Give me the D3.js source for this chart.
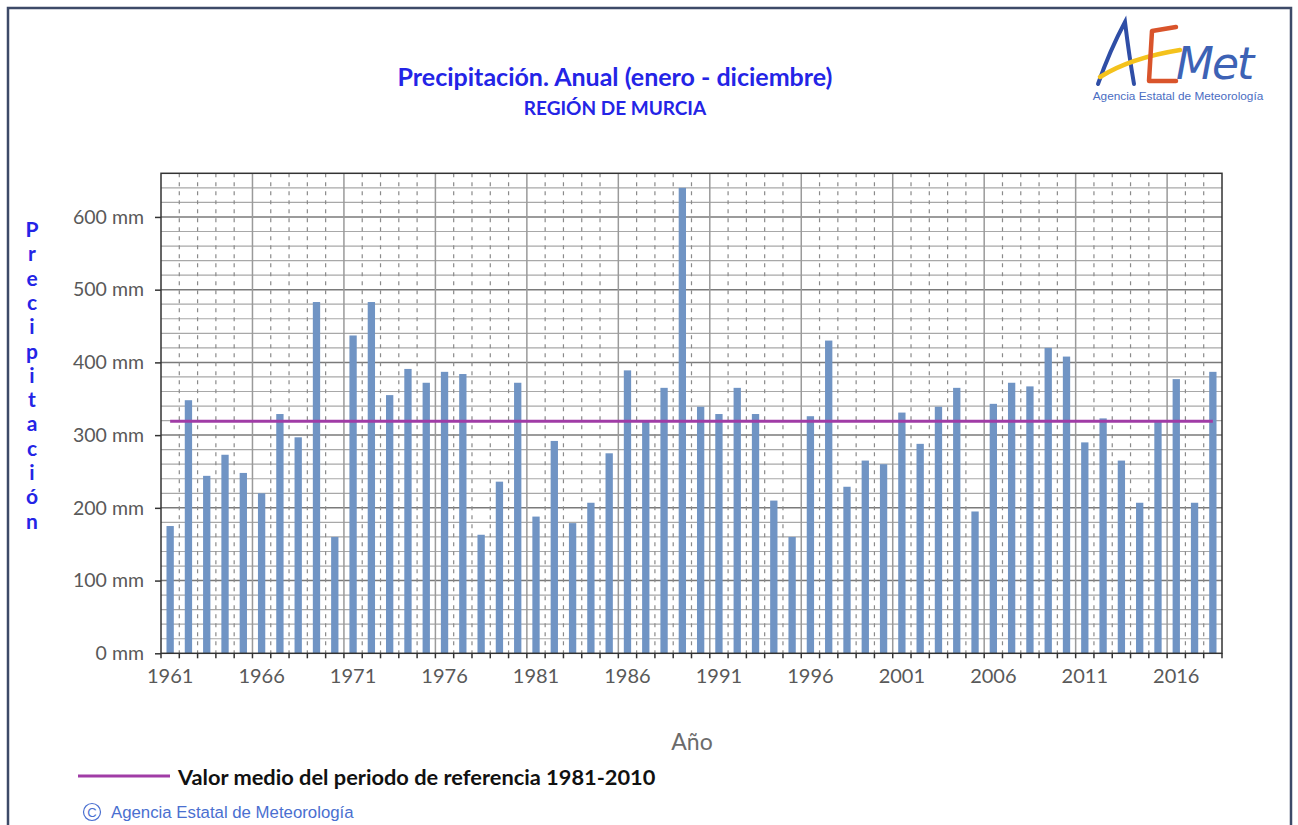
<!DOCTYPE html>
<html>
<head>
<meta charset="utf-8">
<script src="https://cdn.jsdelivr.net/npm/d3@7"></script>
<style>
  body { margin: 0; background: #fff; }
  svg { display: block; }
</style>
</head>
<body>
<div id="chart"></div>
<script>
var years = d3.range(1961, 2019);
var precip = [175, 348, 244, 273, 248, 220, 329, 297, 483, 160,
              437, 483, 355, 391, 372, 387, 384, 163, 236, 372,
              188, 292, 179, 207, 275, 389, 319, 365, 640, 339,
              329, 365, 329, 210, 160, 326, 430, 229, 265, 260,
              331, 288, 339, 365, 195, 343, 372, 367, 420, 408,
              290, 323, 265, 207, 318, 377, 207, 387];
var meanRef = 319;
var yTicks = [0, 100, 200, 300, 400, 500, 600];
var yLabel = "Precipitación";

function drawChart() {
  var width = 1298, height = 825;
  var plotLeft = 161, plotRight = 1222, plotTop = 173.3, plotBottom = 653.3;

  var svg = d3.select("#chart").append("svg")
      .attr("width", width)
      .attr("height", height);

  // frame of the picture
  svg.append("path")
      .attr("d", "M8,825V8H1291V825")
      .attr("fill", "none")
      .attr("stroke", "#3d4a68")
      .attr("stroke-width", 2.5);

  var x = d3.scaleBand()
      .domain(years)
      .range([plotLeft, plotRight])
      .paddingInner(0.6)
      .paddingOuter(0.3);

  var y = d3.scaleLinear()
      .domain([0, 660])
      .range([plotBottom, plotTop]);

  var step = x.step();

  // horizontal grid, every 20 mm
  var g = svg.append("g");
  g.selectAll("line.hgrid")
      .data(d3.range(20, 660, 20))
      .enter().append("line")
        .attr("x1", plotLeft).attr("x2", plotRight)
        .attr("y1", function(d) { return y(d); })
        .attr("y2", function(d) { return y(d); })
        .attr("stroke", function(d) { return d % 100 === 0 ? "#7a7a7a" : "#a8a8a8"; })
        .attr("stroke-width", function(d) { return d % 100 === 0 ? 1.5 : 1.2; });

  // vertical grid at the category boundaries
  g.selectAll("line.vgrid")
      .data(d3.range(1, years.length))
      .enter().append("line")
        .attr("x1", function(i) { return plotLeft + i * step; })
        .attr("x2", function(i) { return plotLeft + i * step; })
        .attr("y1", plotTop).attr("y2", plotBottom)
        .attr("stroke", function(i) { return i % 5 === 0 ? "#9a9a9a" : "#8a8a8a"; })
        .attr("stroke-width", function(i) { return i % 5 === 0 ? 1.5 : 1.2; })
        .attr("stroke-dasharray", function(i) { return i % 5 === 0 ? null : "4,5"; });

  // bars
  svg.append("g").selectAll("rect")
      .data(precip)
      .enter().append("rect")
        .attr("x", function(d, i) { return x(years[i]); })
        .attr("width", x.bandwidth())
        .attr("y", function(d) { return y(d); })
        .attr("height", function(d) { return plotBottom - y(d); })
        .attr("fill", "#7094c4");

  // reference mean
  svg.append("line")
      .attr("x1", x(years[0]) + x.bandwidth() / 2)
      .attr("x2", x(years[years.length - 1]) + x.bandwidth() / 2)
      .attr("y1", y(meanRef)).attr("y2", y(meanRef))
      .attr("stroke", "#a03ca6")
      .attr("stroke-width", 3);

  // plot border
  svg.append("rect")
      .attr("x", plotLeft).attr("y", plotTop)
      .attr("width", plotRight - plotLeft).attr("height", plotBottom - plotTop)
      .attr("fill", "none")
      .attr("stroke", "#333")
      .attr("stroke-width", 1.5);

  // y axis
  var yAxis = svg.append("g")
      .attr("transform", "translate(" + plotLeft + ",0)")
      .call(d3.axisLeft(y).tickValues(yTicks).tickSize(6).tickPadding(11)
        .tickFormat(function(d) { return d + " mm"; }));
  yAxis.select(".domain").remove();
  yAxis.selectAll("line").attr("stroke", "#333").attr("stroke-width", 1.5);
  yAxis.selectAll("text")
      .attr("fill", "#595959")
      .style("font-family", "Lato, 'Open Sans', sans-serif")
      .style("font-size", "19.5px");

  // x tick marks at every boundary
  svg.append("g").selectAll("line")
      .data(d3.range(0, years.length + 1))
      .enter().append("line")
        .attr("x1", function(i) { return plotLeft + i * step; })
        .attr("x2", function(i) { return plotLeft + i * step; })
        .attr("y1", plotBottom).attr("y2", plotBottom + 5)
        .attr("stroke", "#333")
        .attr("stroke-width", 1.5);

  var xAxis = svg.append("g")
      .attr("transform", "translate(0," + plotBottom + ")")
      .call(d3.axisBottom(x)
        .tickValues(years.filter(function(d) { return (d - 1961) % 5 === 0; }))
        .tickSize(0).tickPadding(16));
  xAxis.select(".domain").remove();
  xAxis.selectAll("text")
      .attr("fill", "#595959")
      .style("font-family", "Lato, 'Open Sans', sans-serif")
      .style("font-size", "20px");

  // titles
  svg.append("text")
      .attr("x", 615).attr("y", 86)
      .attr("text-anchor", "middle")
      .attr("fill", "#2424e6")
      .style("font-family", "Lato, sans-serif")
      .style("font-weight", "bold")
      .style("font-size", "25px")
      .text("Precipitación. Anual (enero - diciembre)");

  svg.append("text")
      .attr("x", 615).attr("y", 115)
      .attr("text-anchor", "middle")
      .attr("fill", "#2424e6")
      .style("font-family", "Lato, sans-serif")
      .style("font-weight", "bold")
      .style("font-size", "19px")
      .text("REGIÓN DE MURCIA");

  // vertical y label, one letter per line
  svg.append("g").selectAll("text")
      .data(yLabel.split(""))
      .enter().append("text")
        .attr("x", 32)
        .attr("y", function(d, i) { return 237 + i * 24.3; })
        .attr("text-anchor", "middle")
        .attr("fill", "#2424e6")
        .style("font-family", "Lato, sans-serif")
        .style("font-weight", "bold")
        .style("font-size", "21px")
        .text(function(d) { return d; });

  svg.append("text")
      .attr("x", 692).attr("y", 750)
      .attr("text-anchor", "middle")
      .attr("fill", "#6b6b6b")
      .style("font-family", "Lato, sans-serif")
      .style("font-size", "23px")
      .text("Año");

  // legend
  svg.append("line")
      .attr("x1", 78).attr("x2", 170)
      .attr("y1", 776).attr("y2", 776)
      .attr("stroke", "#a03ca6")
      .attr("stroke-width", 3);
  svg.append("text")
      .attr("x", 178).attr("y", 785)
      .attr("fill", "#111")
      .style("font-family", "Lato, sans-serif")
      .style("font-weight", "bold")
      .style("font-size", "21.8px")
      .text("Valor medio del periodo de referencia 1981-2010");

  // copyright
  svg.append("circle")
      .attr("cx", 92).attr("cy", 812).attr("r", 8.5)
      .attr("fill", "none").attr("stroke", "#4a6fd0").attr("stroke-width", 1.2);
  svg.append("text")
      .attr("x", 92).attr("y", 817)
      .attr("text-anchor", "middle")
      .attr("fill", "#4a6fd0")
      .style("font-family", "'Liberation Sans', Arial, sans-serif")
      .style("font-size", "13px")
      .text("C");
  svg.append("text")
      .attr("x", 111).attr("y", 818)
      .attr("fill", "#4a6fd0")
      .style("font-family", "'Liberation Sans', Arial, sans-serif")
      .style("font-size", "16.8px")
      .text("Agencia Estatal de Meteorología");

  // AEMet logo
  var logo = svg.append("g");
  logo.append("path")
      .attr("d", "M1098,84 Q1110,50 1125,22 Q1129,55 1134,84")
      .attr("fill", "none").attr("stroke", "#2f4ea6")
      .attr("stroke-width", 4).attr("stroke-linecap", "round");
  logo.append("path")
      .attr("d", "M1100,77 Q1130,58 1180,50")
      .attr("fill", "none").attr("stroke", "#f4c21c")
      .attr("stroke-width", 4.5).attr("stroke-linecap", "round");
  logo.append("path")
      .attr("d", "M1176,27 L1152,31 L1149,81 L1176,81")
      .attr("fill", "none").attr("stroke", "#d9542b")
      .attr("stroke-width", 4.5).attr("stroke-linecap", "round")
      .attr("stroke-linejoin", "round");
  logo.append("text")
      .attr("x", 1176).attr("y", 79)
      .attr("fill", "#3d62b5")
      .style("font-family", "'DejaVu Sans', sans-serif")
      .style("font-style", "italic")
      .style("font-size", "44px")
      .style("letter-spacing", "-2px")
      .text("Met");
  logo.append("text")
      .attr("x", 1178).attr("y", 100)
      .attr("text-anchor", "middle")
      .attr("fill", "#4a6cc2")
      .style("font-family", "'Liberation Sans', Arial, sans-serif")
      .style("font-size", "11.8px")
      .text("Agencia Estatal de Meteorología");
}

drawChart();
</script>
</body>
</html>
